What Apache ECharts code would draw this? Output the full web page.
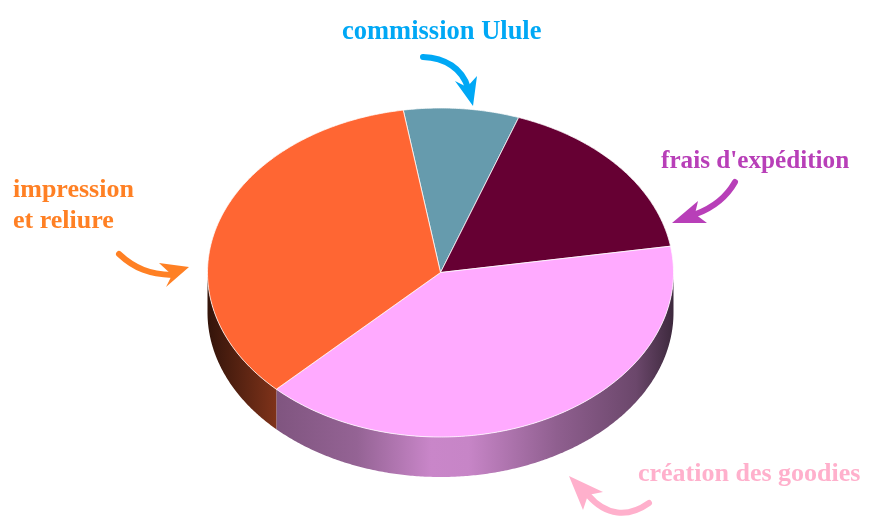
<!DOCTYPE html>
<html><head><meta charset="utf-8">
<style>html,body{margin:0;padding:0;background:#fff}#c{width:877px;height:532px}</style>
<script src="https://cdn.jsdelivr.net/npm/echarts@6/dist/echarts.min.js"></script>
</head><body><div id="c"></div>
<script>
// Data (percent shares, clockwise)
const categories = ['commission Ulule', "frais d'expédition", 'création des goodies', 'impression\net reliure'];
const shares = [8, 17, 40, 35];
const sliceColors = ['#669BAD', '#660033', '#FFAAFF', '#FF6633'];
const labelColors = ['#00A8F5', '#B83FB8', '#FFB0CC', '#FF8024'];

const C = {x: 440.5, y: 272.5, rx: 233, ry: 164.5, depth: 40, start: -9.2};
const total = shares.reduce((a, b) => a + b, 0);
function bounds(i) {
  let s = C.start;
  for (let k = 0; k < i; k++) s += shares[k] / total * 360;
  return [s, s + shares[i] / total * 360];
}
function pt(deg, dy) {
  const r = deg * Math.PI / 180;
  return [C.x + C.rx * Math.sin(r), C.y - C.ry * Math.cos(r) + (dy || 0)];
}
function arc(a, b, dy) {
  const pts = [], n = Math.max(2, Math.ceil(Math.abs(b - a) * 2));
  for (let i = 0; i <= n; i++) pts.push(pt(a + (b - a) * i / n, dy));
  return pts;
}
function mix(hex, f) {
  const c = echarts.color.parse(hex);
  return 'rgb(' + c.slice(0, 3).map(v => Math.round(v * f)).join(',') + ')';
}
function sideGradient(hex) {
  return new echarts.graphic.LinearGradient(C.x - C.rx, 0, C.x + C.rx, 0, [
    {offset: 0, color: mix(hex, 0.2)},
    {offset: 0.15, color: mix(hex, 0.5)},
    {offset: 0.32, color: mix(hex, 0.58)},
    {offset: 0.48, color: mix(hex, 0.79)},
    {offset: 0.56, color: mix(hex, 0.78)},
    {offset: 0.75, color: mix(hex, 0.56)},
    {offset: 0.92, color: mix(hex, 0.42)},
    {offset: 1, color: mix(hex, 0.24)}
  ], true);
}
function renderSide(params, api) {
  const i = params.dataIndex, b = bounds(i);
  const a0 = Math.max(b[0], 90), a1 = Math.min(b[1], 270);
  if (a1 <= a0) return {type: 'group', children: []};
  return {type: 'polygon', shape: {points: arc(a0, a1, 0).concat(arc(a1, a0, C.depth))},
    style: {fill: sideGradient(sliceColors[i]), stroke: null}, silent: true};
}
function renderTop(params, api) {
  const i = params.dataIndex, b = bounds(i);
  return {type: 'polygon', shape: {points: [[C.x, C.y]].concat(arc(b[0], b[1], 0))},
    style: {fill: sliceColors[i], stroke: 'rgba(255,255,255,0.75)', lineWidth: 1, lineJoin: 'round'}};
}

const labelPos = [[342, 32], [661, 161], [638, 474], [13, 190]];
const labelSize = [26.5, 25.2, 26, 26];
const arrows = [
  {c: 0, p: [423,57, 445,58, 462,68, 468,88], head: [[473,106],[455,81],[467,87],[477,76]]},
  {c: 1, p: [735,182, 726,198, 712,208, 696,214], head: [[672,223],[698,201],[695,214],[707,223]]},
  {c: 2, p: [649,503, 628,518, 606,516, 588,495], head: [[569,476],[603,492],[588,495],[583,510]]},
  {c: 3, p: [119,254, 135,269, 150,274, 172,275], head: [[189,267],[159,263],[172,275],[166,287]]}
];
const graphics = [];
categories.forEach((t, i) => {
  graphics.push({type: 'text', left: labelPos[i][0], top: labelPos[i][1] - 15,
    style: {text: t, fill: labelColors[i], font: 'bold ' + labelSize[i] + 'px "Liberation Serif"', lineHeight: 31}});
});
arrows.forEach(a => {
  const col = labelColors[a.c], p = a.p;
  graphics.push({type: 'bezierCurve', shape: {x1: p[0], y1: p[1], cpx1: p[2], cpy1: p[3], cpx2: p[4], cpy2: p[5], x2: p[6], y2: p[7]},
    style: {stroke: col, lineWidth: 6, lineCap: 'round', fill: null}, silent: true});
  graphics.push({type: 'polygon', shape: {points: a.head}, style: {fill: col}, silent: true});
});

const chart = echarts.init(document.getElementById('c'), null, {renderer: 'canvas'});
const seriesData = categories.map((n, i) => ({name: n, value: shares[i]}));
chart.setOption({
  animation: false,
  backgroundColor: '#fff',
  graphic: graphics,
  series: [
    {type: 'custom', coordinateSystem: 'none', renderItem: renderSide, data: seriesData, z: 1, silent: true},
    {type: 'custom', coordinateSystem: 'none', renderItem: renderTop, data: seriesData, z: 2}
  ]
});
</script></body></html>
